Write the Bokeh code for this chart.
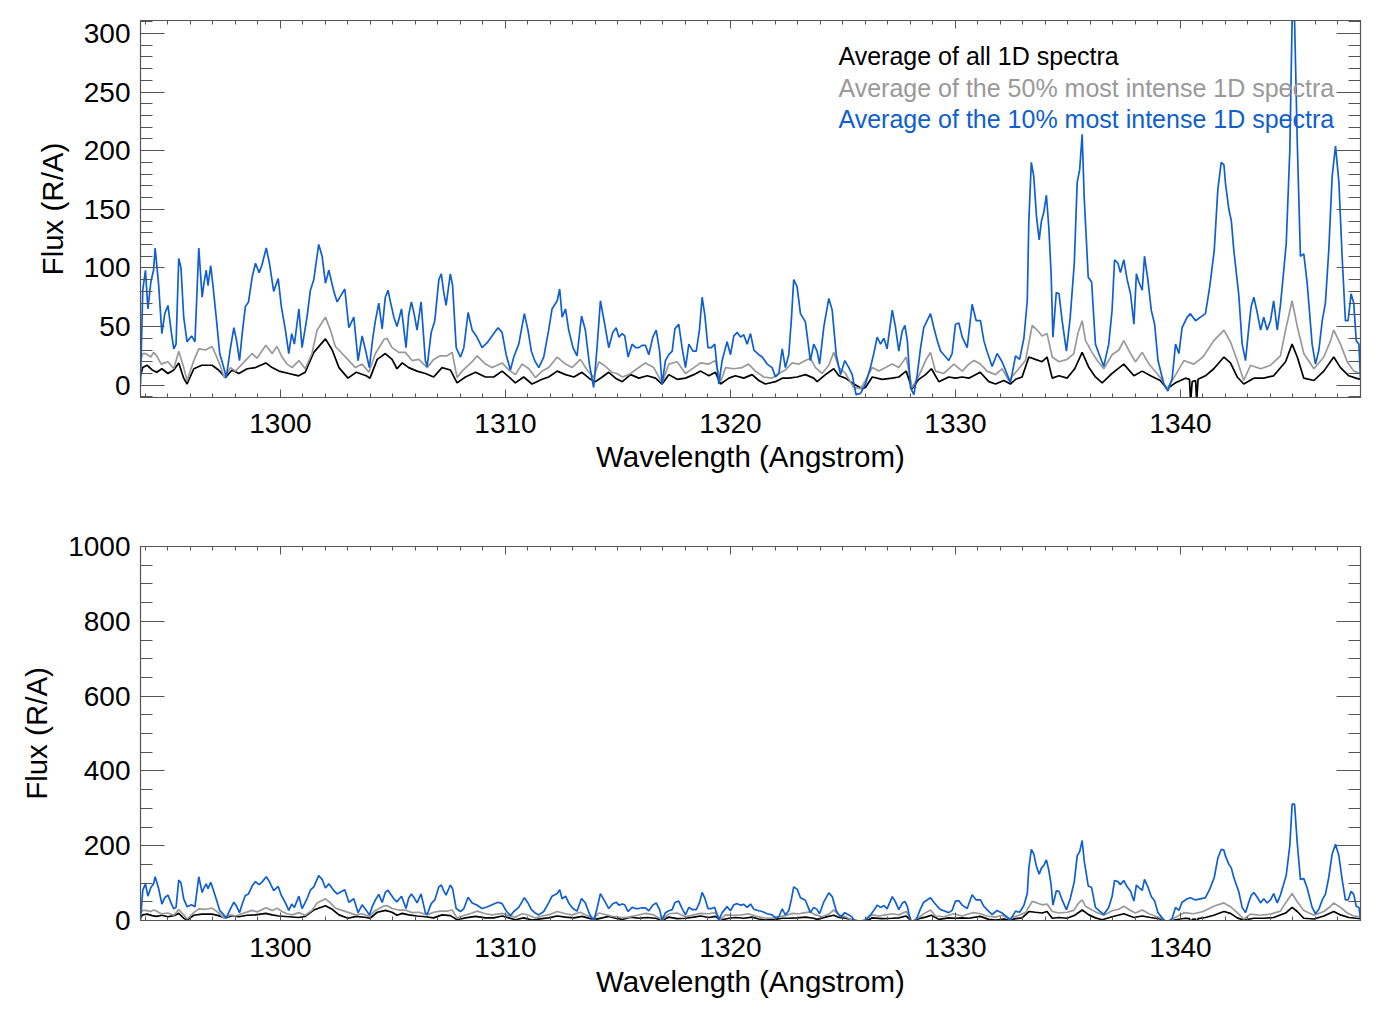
from bokeh.plotting import figure
from bokeh.layouts import column
from bokeh.models import Range1d, FixedTicker, LinearAxis, Label, CustomJSTickFormatter
from bokeh.embed import file_html
from bokeh.resources import INLINE

# ---------------- data ----------------
wl_blue = [1293.78, 1293.88, 1294.00, 1294.11, 1294.24, 1294.36, 1294.43, 1294.58, 1294.73, 1294.86,
           1295.00, 1295.15, 1295.26, 1295.36, 1295.48, 1295.58, 1295.70, 1295.85, 1296.05, 1296.20,
           1296.37, 1296.52, 1296.60, 1296.70, 1296.78, 1296.90, 1297.00, 1297.16, 1297.30, 1297.48,
           1297.59, 1297.78, 1297.93, 1298.05, 1298.18, 1298.30, 1298.44, 1298.58, 1298.74, 1298.89,
           1299.05, 1299.17, 1299.37, 1299.51, 1299.70, 1299.90, 1300.04, 1300.22, 1300.37, 1300.50,
           1300.62, 1300.82, 1300.96, 1301.18, 1301.33, 1301.48, 1301.70, 1301.85, 1302.00, 1302.15,
           1302.37, 1302.52, 1302.67, 1302.86, 1303.04, 1303.26, 1303.45, 1303.63, 1303.78, 1303.95,
           1304.10, 1304.22, 1304.37, 1304.52, 1304.66, 1304.78, 1304.90, 1305.04, 1305.18, 1305.38,
           1305.58, 1305.70, 1305.82, 1305.95, 1306.07, 1306.25, 1306.44, 1306.52, 1306.70, 1306.86,
           1307.04, 1307.15, 1307.25, 1307.36, 1307.55, 1307.65, 1307.81, 1308.00, 1308.15, 1308.34,
           1308.52, 1308.70, 1308.81, 1308.96, 1309.18, 1309.48, 1309.67, 1309.85, 1310.03, 1310.22,
           1310.37, 1310.59, 1310.84, 1311.00, 1311.15, 1311.30, 1311.48, 1311.70, 1311.92, 1312.07,
           1312.30, 1312.41, 1312.52, 1312.67, 1312.81, 1313.00, 1313.18, 1313.38, 1313.55, 1313.73,
           1313.92, 1314.07, 1314.22, 1314.41, 1314.59, 1314.77, 1314.92, 1315.04, 1315.19, 1315.30,
           1315.45, 1315.63, 1315.78, 1315.93, 1316.07, 1316.22, 1316.37, 1316.55, 1316.70, 1316.85,
           1316.96, 1317.11, 1317.26, 1317.41, 1317.53, 1317.70, 1317.85, 1318.00, 1318.15, 1318.33,
           1318.48, 1318.62, 1318.74, 1318.86, 1319.00, 1319.15, 1319.30, 1319.48, 1319.63, 1319.85,
           1320.00, 1320.15, 1320.30, 1320.45, 1320.59, 1320.74, 1320.89, 1321.04, 1321.26, 1321.41,
           1321.63, 1321.85, 1322.00, 1322.15, 1322.30, 1322.44, 1322.59, 1322.71, 1322.81, 1322.96,
           1323.11, 1323.33, 1323.55, 1323.70, 1323.85, 1323.96, 1324.15, 1324.37, 1324.52, 1324.70,
           1324.89, 1325.08, 1325.26, 1325.41, 1325.58, 1325.78, 1326.00, 1326.22, 1326.37, 1326.52,
           1326.67, 1326.82, 1326.96, 1327.19, 1327.33, 1327.48, 1327.63, 1327.75, 1327.86, 1328.00,
           1328.15, 1328.30, 1328.45, 1328.59, 1328.74, 1328.89, 1329.04, 1329.19, 1329.34, 1329.48,
           1329.70, 1329.85, 1330.00, 1330.15, 1330.30, 1330.52, 1330.74, 1330.92, 1331.11, 1331.26,
           1331.40, 1331.63, 1331.85, 1332.07, 1332.22, 1332.44, 1332.67, 1332.85, 1333.04, 1333.19,
           1333.26, 1333.37, 1333.48, 1333.60, 1333.72, 1333.82, 1333.92, 1334.04, 1334.15, 1334.25,
           1334.33, 1334.48, 1334.60, 1334.74, 1334.93, 1335.10, 1335.28, 1335.41, 1335.52, 1335.63,
           1335.72, 1335.80, 1335.90, 1336.05, 1336.22, 1336.37, 1336.59, 1336.81, 1336.96, 1337.07,
           1337.22, 1337.33, 1337.48, 1337.63, 1337.78, 1337.93, 1338.04, 1338.15, 1338.30, 1338.40,
           1338.55, 1338.70, 1338.85, 1339.00, 1339.26, 1339.44, 1339.63, 1339.78, 1339.93, 1340.07,
           1340.30, 1340.44, 1340.67, 1340.89, 1341.11, 1341.30, 1341.50, 1341.66, 1341.81, 1341.93,
           1342.00, 1342.15, 1342.26, 1342.37, 1342.59, 1342.74, 1342.89, 1343.04, 1343.14, 1343.26,
           1343.41, 1343.56, 1343.70, 1343.85, 1344.00, 1344.14, 1344.30, 1344.44, 1344.56, 1344.70,
           1344.86, 1344.96, 1345.07, 1345.19, 1345.33, 1345.48, 1345.63, 1345.85, 1346.00, 1346.15,
           1346.30, 1346.44, 1346.59, 1346.74, 1346.89, 1347.04, 1347.19, 1347.33, 1347.45, 1347.58,
           1347.70, 1347.81, 1347.93, 1348.00]
flux_blue = [1, 81, 98, 65, 88, 98, 117, 87, 44, 61,
             68, 45, 31, 35, 108, 100, 58, 37, 42, 37,
             117, 75, 87, 98, 85, 102, 85, 55, 27, 15,
             6.5, 32, 49, 38, 21, 44, 67, 71, 92, 104,
             96, 102, 117, 104, 80, 91, 67, 47, 27, 44,
             35, 65, 32, 58, 81, 90, 120, 110, 87, 98,
             80, 71, 76, 82, 49, 58, 21, 42, 30, 15,
             40, 55, 70, 48, 75, 81, 70, 58, 50, 65,
             32, 60, 71, 60, 47, 71, 21, 16, 45, 55,
             90, 95, 80, 68, 95, 85, 32, 24, 32, 62,
             47, 42, 38, 32, 36, 44, 49, 45, 26, 13,
             24, 35, 61, 47, 29, 21, 15, 24, 47, 65,
             72, 82, 58, 65, 47, 32, 25, 59, 47, 18,
             -2, 32, 72, 52, 32, 45, 49, 41, 44, 42,
             24, 35, 32, 32, 34, 34, 26, 41, 47, 29,
             1, 21, 26, 29, 48, 52, 32, 15, 35, 29,
             29, 47, 75, 60, 32, 32, 35, 1, 21, 37,
             26, 42, 45, 41, 43, 35, 44, 30, 26, 24,
             18, 15, 7, 10, 31, 15, 26, 57, 90, 84,
             61, 54, 21, 35, 29, 18, 50, 74, 64, 26,
             9, 21, 15, 9, -8, -7, 1, 15, 27, 41,
             35, 40, 31, 64, 50, 29, 46, 51, 38, -2,
             -8, 9, 32, 49, 55, 61, 49, 38, 29, 26,
             21, 27, 52, 53, 41, 32, 69, 55, 55, 38,
             29, 16, 27, 20, 13, 2, 25, 22, 40, 72,
             140, 190, 178, 144, 124, 140, 147, 162, 134, 95,
             41, 79, 78, 55, 29, 58, 104, 173, 184, 214,
             160, 130, 92, 88, 35, 27, 16, 35, 64, 107,
             104, 96, 107, 90, 78, 52, 95, 88, 81, 110,
             90, 64, 52, 21, 1, -5, 6, 35, 27, 49,
             58, 61, 55, 58, 61, 84, 115, 167, 190, 188,
             172, 150, 140, 115, 77, 35, 21, 50, 67, 75,
             62, 47, 58, 47, 55, 72, 47, 68, 92, 121,
             201, 311, 311, 207, 110, 112, 87, 35, 18, 30,
             55, 70, 115, 178, 204, 173, 107, 55, 55, 78,
             70, 38, 35, 5]

wl_gray = [1293.78, 1293.88, 1294.00, 1294.24, 1294.36, 1294.50, 1294.70, 1295.00, 1295.26, 1295.48,
           1295.70, 1295.85, 1296.15, 1296.37, 1296.67, 1296.96, 1297.10, 1297.30, 1297.50, 1297.78,
           1298.00, 1298.44, 1298.74, 1298.96, 1299.35, 1299.63, 1299.85, 1300.07, 1300.29, 1300.52,
           1300.82, 1301.10, 1301.40, 1301.63, 1302.00, 1302.22, 1302.44, 1302.74, 1303.04, 1303.33,
           1303.63, 1303.93, 1304.22, 1304.60, 1304.74, 1304.96, 1305.26, 1305.55, 1305.85, 1306.15,
           1306.52, 1306.81, 1307.10, 1307.40, 1307.63, 1307.85, 1308.07, 1308.52, 1308.74, 1309.11,
           1309.41, 1309.85, 1310.15, 1310.44, 1310.74, 1311.04, 1311.33, 1311.63, 1311.92, 1312.30,
           1312.67, 1312.96, 1313.33, 1313.63, 1313.92, 1314.15, 1314.44, 1314.74, 1314.95, 1315.20,
           1315.48, 1315.85, 1316.22, 1316.59, 1316.96, 1317.26, 1317.63, 1318.00, 1318.37, 1318.67,
           1319.04, 1319.33, 1319.56, 1319.78, 1320.15, 1320.52, 1320.80, 1321.11, 1321.48, 1321.85,
           1322.15, 1322.44, 1322.74, 1323.04, 1323.33, 1323.55, 1323.78, 1324.07, 1324.37, 1324.59,
           1324.82, 1325.11, 1325.48, 1325.78, 1326.00, 1326.30, 1326.60, 1326.89, 1327.19, 1327.48,
           1327.81, 1328.07, 1328.37, 1328.67, 1328.89, 1329.11, 1329.48, 1329.93, 1330.30, 1330.59,
           1330.82, 1331.11, 1331.40, 1331.78, 1332.07, 1332.37, 1332.81, 1333.11, 1333.30, 1333.41,
           1333.63, 1333.85, 1334.07, 1334.30, 1334.60, 1334.96, 1335.26, 1335.45, 1335.63, 1335.78,
           1336.07, 1336.30, 1336.59, 1336.96, 1337.26, 1337.48, 1337.78, 1338.00, 1338.30, 1338.60,
           1339.10, 1339.40, 1339.70, 1340.15, 1340.59, 1341.00, 1341.48, 1341.93, 1342.22, 1342.52,
           1342.81, 1343.11, 1343.56, 1344.00, 1344.44, 1344.67, 1344.96, 1345.19, 1345.48, 1345.93,
           1346.37, 1346.67, 1346.81, 1347.11, 1347.41, 1347.70, 1348.00]
flux_gray = [20, 27, 27, 24, 28, 25, 18, 20, 14, 29,
             15, 4, 21, 31, 30, 33, 27, 18, 6.5, 15,
             12, 21, 27, 23, 34, 27, 33, 24, 18, 15,
             21, 14, 27, 47, 58, 47, 33, 27, 21, 15,
             18, 11, 27, 39, 40, 32, 28, 28, 21, 22,
             15, 22, 25, 25, 28, 6.5, 12, 20, 25, 18,
             15, 19, 13, 9, 18, 14, 6.5, 12, 15, 24,
             18, 15, 22, 13, 6.5, 20, 16, 11, 10, 7,
             9, 14, 19, 15, 2, 18, 20, 10, 15, 19,
             18, 21, 3, 15, 14, 15, 18, 12, 7, 6,
             10, 13, 19, 18, 21, 23, 15, 10, 17, 28,
             15, 10, -2, -3, 4, 15, 12, 15, 18, 15,
             24, -2, 8, 21, 28, 12, 10, 18, 12, 18,
             21, 18, 12, 9, 14, 4, 14, 21, 40, 51,
             47, 42, 44, 24, 20, 22, 27, 45, 55, 38,
             28, 21, 14, 26, 30, 38, 27, 20, 28, 18,
             6.5, -3, 6, 21, 18, 24, 38, 47, 37, 21,
             4, 17, 14, 17, 25, 47, 72, 50, 27, 14,
             24, 38, 47, 35, 20, 12, 10]

wl_black = [1293.78, 1293.88, 1294.07, 1294.30, 1294.50, 1294.73, 1295.00, 1295.26, 1295.48, 1295.70,
            1295.85, 1296.15, 1296.50, 1296.96, 1297.25, 1297.55, 1297.85, 1298.15, 1298.52, 1298.89,
            1299.35, 1299.63, 1299.93, 1300.37, 1300.81, 1301.10, 1301.48, 1302.00, 1302.30, 1302.60,
            1303.00, 1303.37, 1303.81, 1303.98, 1304.30, 1304.52, 1304.66, 1304.96, 1305.18, 1305.41,
            1305.70, 1306.07, 1306.44, 1306.81, 1307.18, 1307.55, 1307.85, 1308.22, 1308.67, 1309.11,
            1309.48, 1309.85, 1310.15, 1310.44, 1310.81, 1311.18, 1311.63, 1311.92, 1312.30, 1312.67,
            1313.04, 1313.40, 1313.78, 1314.00, 1314.30, 1314.59, 1314.89, 1315.19, 1315.56, 1315.93,
            1316.30, 1316.67, 1316.96, 1317.26, 1317.63, 1318.00, 1318.37, 1318.67, 1319.04, 1319.33,
            1319.56, 1319.93, 1320.22, 1320.59, 1320.96, 1321.26, 1321.55, 1322.00, 1322.30, 1322.59,
            1322.96, 1323.33, 1323.70, 1323.85, 1324.22, 1324.59, 1324.82, 1325.11, 1325.48, 1325.85,
            1326.00, 1326.30, 1326.74, 1327.19, 1327.48, 1327.81, 1328.07, 1328.37, 1328.67, 1328.93,
            1329.26, 1329.70, 1330.00, 1330.30, 1330.59, 1331.10, 1331.48, 1331.78, 1332.15, 1332.44,
            1332.67, 1332.96, 1333.26, 1333.55, 1333.85, 1334.07, 1334.30, 1334.60, 1334.96, 1335.30,
            1335.63, 1335.93, 1336.22, 1336.52, 1336.96, 1337.48, 1337.93, 1338.30, 1338.67, 1339.10,
            1339.40, 1339.78, 1340.22, 1340.40, 1340.45, 1340.52, 1340.67, 1340.72, 1340.78, 1341.11,
            1341.48, 1341.93, 1342.22, 1342.52, 1342.81, 1343.26, 1343.70, 1344.14, 1344.67, 1344.96,
            1345.19, 1345.48, 1345.93, 1346.37, 1346.81, 1347.11, 1347.48, 1347.80, 1348.00]
flux_black = [8, 15, 17, 13, 11, 14, 10, 13, 19, 6,
              1, 14, 17, 17, 13, 6.5, 13, 10, 14, 15,
              19, 15, 12, 10, 8, 11, 28, 39.5, 30, 15,
              6, 11, 8, 6, 22, 25, 27, 22, 14, 19,
              15, 12, 10, 7, 15, 13, 2, 7, 11, 7,
              7, 12, 7, 2, 7, 1, 5, 7, 12, 9,
              7, 11, 5, 3, 7, 11, 6, 3, 9, 6,
              8, 6, 1, 9, 5, 6, 9, 12, 8, 11,
              1, 6, 8, 6, 9, 4, 1, 3, 6, 6,
              7, 9, 6, 3, 9, 14, 8, 6, 1, -3,
              -2, 7, 5, 6, 7, 12, -3, 5, 9, 14,
              3, 7, 6, 7, 6, 11, 3, 1, 4, 1,
              5, 7, 24, 22, 20, 24, 6, 8, 6, 14,
              28, 15, 7, 2, 10, 18, 8, 12, 8, 4,
              -3, 2, 6, 5, -14, 3, 4, -14, 5, 8,
              14, 24, 19, 7, 1, 6, 6, 8, 20, 35,
              24, 6, 4, 12, 24, 15, 8, 6, 5]

series_colors = ["#000000", "#999999", "#0f5fcf"]
legend_labels = ["Average of all 1D spectra",
                 "Average of the 50% most intense 1D spectra",
                 "Average of the 10% most intense 1D spectra"]

x_major = [1300, 1310, 1320, 1330, 1340]
x_minor = list(range(1294, 1349))
top_y_major = [0, 50, 100, 150, 200, 250, 300]
top_y_minor = list(range(-10, 311, 10))
bot_y_major = [0, 200, 400, 600, 800, 1000]
bot_y_minor = list(range(0, 1001, 50))

x_label = "Wavelength (Angstrom)"
y_label = "Flux (R/A)"

FONT = "Liberation Sans"
AXCOL = "#555555"


def style_axis(ax, tick_in, minor_in, labels=True):
    ax.axis_line_color = AXCOL
    ax.axis_line_width = 1.2
    ax.major_tick_line_color = AXCOL
    ax.minor_tick_line_color = AXCOL
    ax.major_tick_in = tick_in
    ax.major_tick_out = 0
    ax.minor_tick_in = minor_in
    ax.minor_tick_out = 0
    if labels:
        ax.major_label_text_font = FONT
        ax.major_label_text_font_size = "28px"
        ax.major_label_text_color = "black"
        ax.axis_label_text_font = FONT
        ax.axis_label_text_font_size = "29.5px"
        ax.axis_label_text_font_style = "normal"
        ax.axis_label_text_color = "black"
    else:
        ax.formatter = CustomJSTickFormatter(code="return ''")
        ax.major_label_text_font_size = "0px"
        ax.major_label_standoff = 0


def make_fig(height, top_b, bot_b, yr, ymaj, ymin, xstand, xlabstand):
    p = figure(width=1372, height=height,
               x_range=Range1d(1293.78, 1348.0), y_range=Range1d(*yr),
               output_backend="svg", toolbar_location=None,
               min_border_left=140, min_border_right=12,
               min_border_top=top_b, min_border_bottom=bot_b)
    p.grid.visible = False
    p.outline_line_color = AXCOL
    p.background_fill_color = "white"
    p.border_fill_color = "white"

    xt = FixedTicker(ticks=x_major, minor_ticks=x_minor)
    yt = FixedTicker(ticks=ymaj, minor_ticks=ymin)

    xa = p.xaxis[0]
    xa.ticker = xt
    style_axis(xa, 8, 4)
    xa.axis_label = x_label
    xa.major_label_standoff = xstand
    xa.axis_label_standoff = xlabstand

    ya = p.yaxis[0]
    ya.ticker = yt
    style_axis(ya, 24, 12)
    ya.axis_label = y_label
    ya.major_label_standoff = 10
    ya.axis_label_standoff = 12

    ta = LinearAxis(ticker=xt)
    style_axis(ta, 8, 4, labels=False)
    p.add_layout(ta, "above")
    ra = LinearAxis(ticker=yt)
    style_axis(ra, 24, 12, labels=False)
    p.add_layout(ra, "right")

    for wl, fl, c in zip([wl_black, wl_gray, wl_blue],
                         [flux_black, flux_gray, flux_blue], series_colors):
        p.line(wl, fl, line_color=c, line_width=1.7)
    return p


p1 = make_fig(526, 20, 129, (-10.5, 311), top_y_major, top_y_minor, 16, 4)
leg_y = [281, 253.7, 227]
for txt, c, yy in zip(legend_labels, series_colors, leg_y):
    p1.add_layout(Label(x=1324.8, y=yy, text=txt, text_color=c,
                        text_font=FONT, text_font_size="25px",
                        text_baseline="middle", text_align="left"))

p2 = make_fig(490, 20, 96, (0, 1000), bot_y_major, bot_y_minor, 17, 5)

layout = column(p1, p2)
open("out.html", "w").write(file_html(layout, INLINE))
